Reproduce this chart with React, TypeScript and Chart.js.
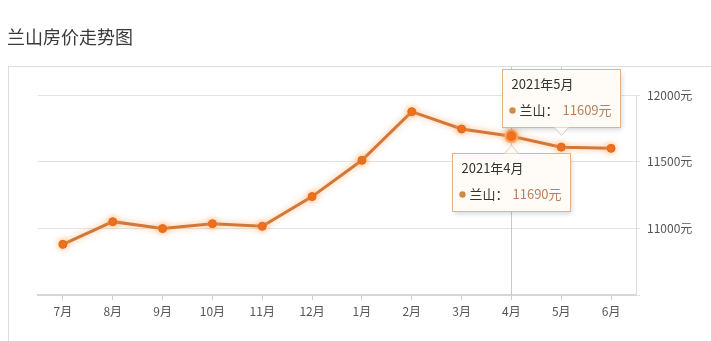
import React, { useEffect, useRef } from "react";
import { Chart, registerables } from "chart.js";

Chart.register(...registerables);

const chartTitle = "兰山房价走势图";
const seriesName = "兰山";
const unit = "元";
const months = ["7月", "8月", "9月", "10月", "11月", "12月", "1月", "2月", "3月", "4月", "5月", "6月"];
const prices = [10880, 11050, 10998, 11035, 11015, 11238, 11510, 11875, 11745, 11690, 11609, 11600];
const yTicks = [10500, 11000, 11500, 12000];
const tipIndices = [9, 10];
const tipTitles = ["2021年4月", "2021年5月"];
const activeIndex = 9;

const FONT = '"Noto Sans CJK SC", "Noto Sans", sans-serif';

function drawTip(ctx: CanvasRenderingContext2D, x: number, y: number, title: string, value: string, above: boolean) {
  const w = 118, h = 58, notch = 8;
  const left = Math.round(x - 59) + 0.5;
  let top: number;
  let tipY: number;
  if (above) {
    tipY = y - 12;
    top = Math.round(tipY - notch - h) + 0.5;
  } else {
    tipY = y + 8.5;
    top = Math.round(tipY + notch) + 0.5;
  }
  ctx.save();
  ctx.shadowColor = "rgba(0,0,0,0.18)";
  ctx.shadowBlur = 5;
  ctx.shadowOffsetX = 1;
  ctx.shadowOffsetY = 2;
  ctx.fillStyle = "#fffcf7";
  ctx.fillRect(left, top, w, h);
  ctx.restore();
  ctx.save();
  ctx.strokeStyle = "#e2b487";
  ctx.lineWidth = 1;
  ctx.strokeRect(left, top, w, h);
  // notch
  const nx = Math.round(x) + 0.5;
  const baseY = above ? top + h : top;
  ctx.beginPath();
  ctx.moveTo(nx - 7, baseY);
  ctx.lineTo(nx, above ? baseY + notch : baseY - notch);
  ctx.lineTo(nx + 7, baseY);
  ctx.closePath();
  ctx.fillStyle = "#fffcf7";
  ctx.fill();
  ctx.beginPath();
  ctx.moveTo(nx - 7, baseY);
  ctx.lineTo(nx, above ? baseY + notch : baseY - notch);
  ctx.lineTo(nx + 7, baseY);
  ctx.strokeStyle = "#cfcfcf";
  ctx.stroke();
  // text
  ctx.textBaseline = "middle";
  ctx.textAlign = "left";
  ctx.font = `13px ${FONT}`;
  ctx.fillStyle = "#333";
  ctx.fillText(title, left + 9, top + 15);
  ctx.beginPath();
  ctx.arc(left + 10, top + 41, 3.2, 0, Math.PI * 2);
  ctx.fillStyle = "#d08a4a";
  ctx.fill();
  ctx.fillStyle = "#333";
  ctx.fillText(seriesName + "：", left + 17, top + 41);
  ctx.fillStyle = "#b9805a";
  ctx.fillText(value, left + 60, top + 41);
  ctx.restore();
}

const decorPlugin = {
  id: "decor",
  beforeDraw(chart: any) {
    const ctx = chart.ctx as CanvasRenderingContext2D;
    ctx.save();
    ctx.fillStyle = "#ffffff";
    ctx.fillRect(0, 0, chart.width, chart.height);
    ctx.font = `18px ${FONT}`;
    ctx.fillStyle = "#3a3a3a";
    ctx.textBaseline = "middle";
    ctx.textAlign = "left";
    ctx.fillText(chartTitle, 7, 37);
    ctx.strokeStyle = "#dddddd";
    ctx.lineWidth = 1;
    ctx.strokeRect(8.5, 66.5, 800, 400);
    ctx.restore();
  },
  beforeDatasetsDraw(chart: any) {
    const ctx = chart.ctx as CanvasRenderingContext2D;
    const xs = chart.scales.x;
    const bottom = chart.chartArea.bottom;
    ctx.save();
    ctx.strokeStyle = "#c8c8c8";
    ctx.lineWidth = 1;
    const xa = Math.round(xs.getPixelForValue(tipIndices[0])) + 0.5;
    ctx.beginPath();
    ctx.moveTo(xa, 67);
    ctx.lineTo(xa, bottom);
    ctx.stroke();
    const xb = Math.round(xs.getPixelForValue(tipIndices[1])) + 0.5;
    ctx.beginPath();
    ctx.moveTo(xb, 67);
    ctx.lineTo(xb, 80);
    ctx.stroke();
    ctx.restore();
  },
  beforeDatasetDraw(chart: any) {
    const ctx = chart.ctx as CanvasRenderingContext2D;
    ctx.save();
    ctx.shadowColor = "rgba(250,165,90,0.75)";
    ctx.shadowBlur = 6;
  },
  afterDatasetDraw(chart: any) {
    chart.ctx.restore();
  },
  afterDraw(chart: any) {
    const ctx = chart.ctx as CanvasRenderingContext2D;
    const xs = chart.scales.x;
    const ys = chart.scales.y;
    tipIndices.forEach((idx, i) => {
      const px = xs.getPixelForValue(idx);
      const py = ys.getPixelForValue(prices[idx]);
      drawTip(ctx, px, py, tipTitles[i], prices[idx] + unit, i === 1);
    });
  },
};

export default function App() {
  const ref = useRef<HTMLCanvasElement | null>(null);
  useEffect(() => {
    document.body.style.margin = "0";
    const canvas = ref.current!;
    const chart = new Chart(canvas, {
      type: "line",
      data: {
        labels: months,
        datasets: [
          {
            label: seriesName,
            data: prices,
            borderColor: "#d2783a",
            borderWidth: 3,
            tension: 0,
            pointRadius: (c: any) => (c.dataIndex === activeIndex ? 6 : 4),
            pointBackgroundColor: (c: any) => (c.dataIndex === activeIndex ? "#ee6610" : "#e96a18"),
            pointBorderColor: (c: any) => (c.dataIndex === activeIndex ? "#f6a868" : "#e96a18"),
            pointBorderWidth: (c: any) => (c.dataIndex === activeIndex ? 2 : 1),
          },
        ],
      },
      options: {
        responsive: false,
        animation: false,
        events: [],
        layout: { padding: { left: 38, top: 95, right: 0, bottom: 0 } },
        plugins: { legend: { display: false }, tooltip: { enabled: false }, title: { display: false } },
        scales: {
          x: {
            type: "category",
            offset: true,
            grid: {
              offset: false,
              drawOnChartArea: false,
              drawTicks: true,
              tickLength: 5,
              color: "#cccccc",
            },
            border: { display: true, color: "#d6d6d6", width: 2 },
            ticks: {
              color: "#555",
              font: { size: 12, family: FONT },
              padding: 4,
              maxRotation: 0,
              autoSkip: false,
            },
            afterFit: (s: any) => {
              s.height = 46;
            },
          },
          y: {
            position: "right",
            min: yTicks[0],
            max: yTicks[yTicks.length - 1],
            afterBuildTicks: (s: any) => {
              s.ticks = yTicks.map((v) => ({ value: v }));
            },
            grid: { color: "#e3e3e3", drawTicks: true, tickLength: 4, lineWidth: 1 },
            border: { display: true, color: "#dcdcdc", width: 1 },
            ticks: {
              color: "#555",
              font: { size: 12, family: FONT },
              padding: 7,
              callback: (v: any) => (v === yTicks[0] ? "" : v + unit),
            },
            afterFit: (s: any) => {
              s.width = 75;
            },
          },
        },
      },
      plugins: [decorPlugin],
    } as any);
    return () => chart.destroy();
  }, []);
  return <canvas ref={ref} width={711} height={341} style={{ display: "block", width: 711, height: 341 }} />;
}
